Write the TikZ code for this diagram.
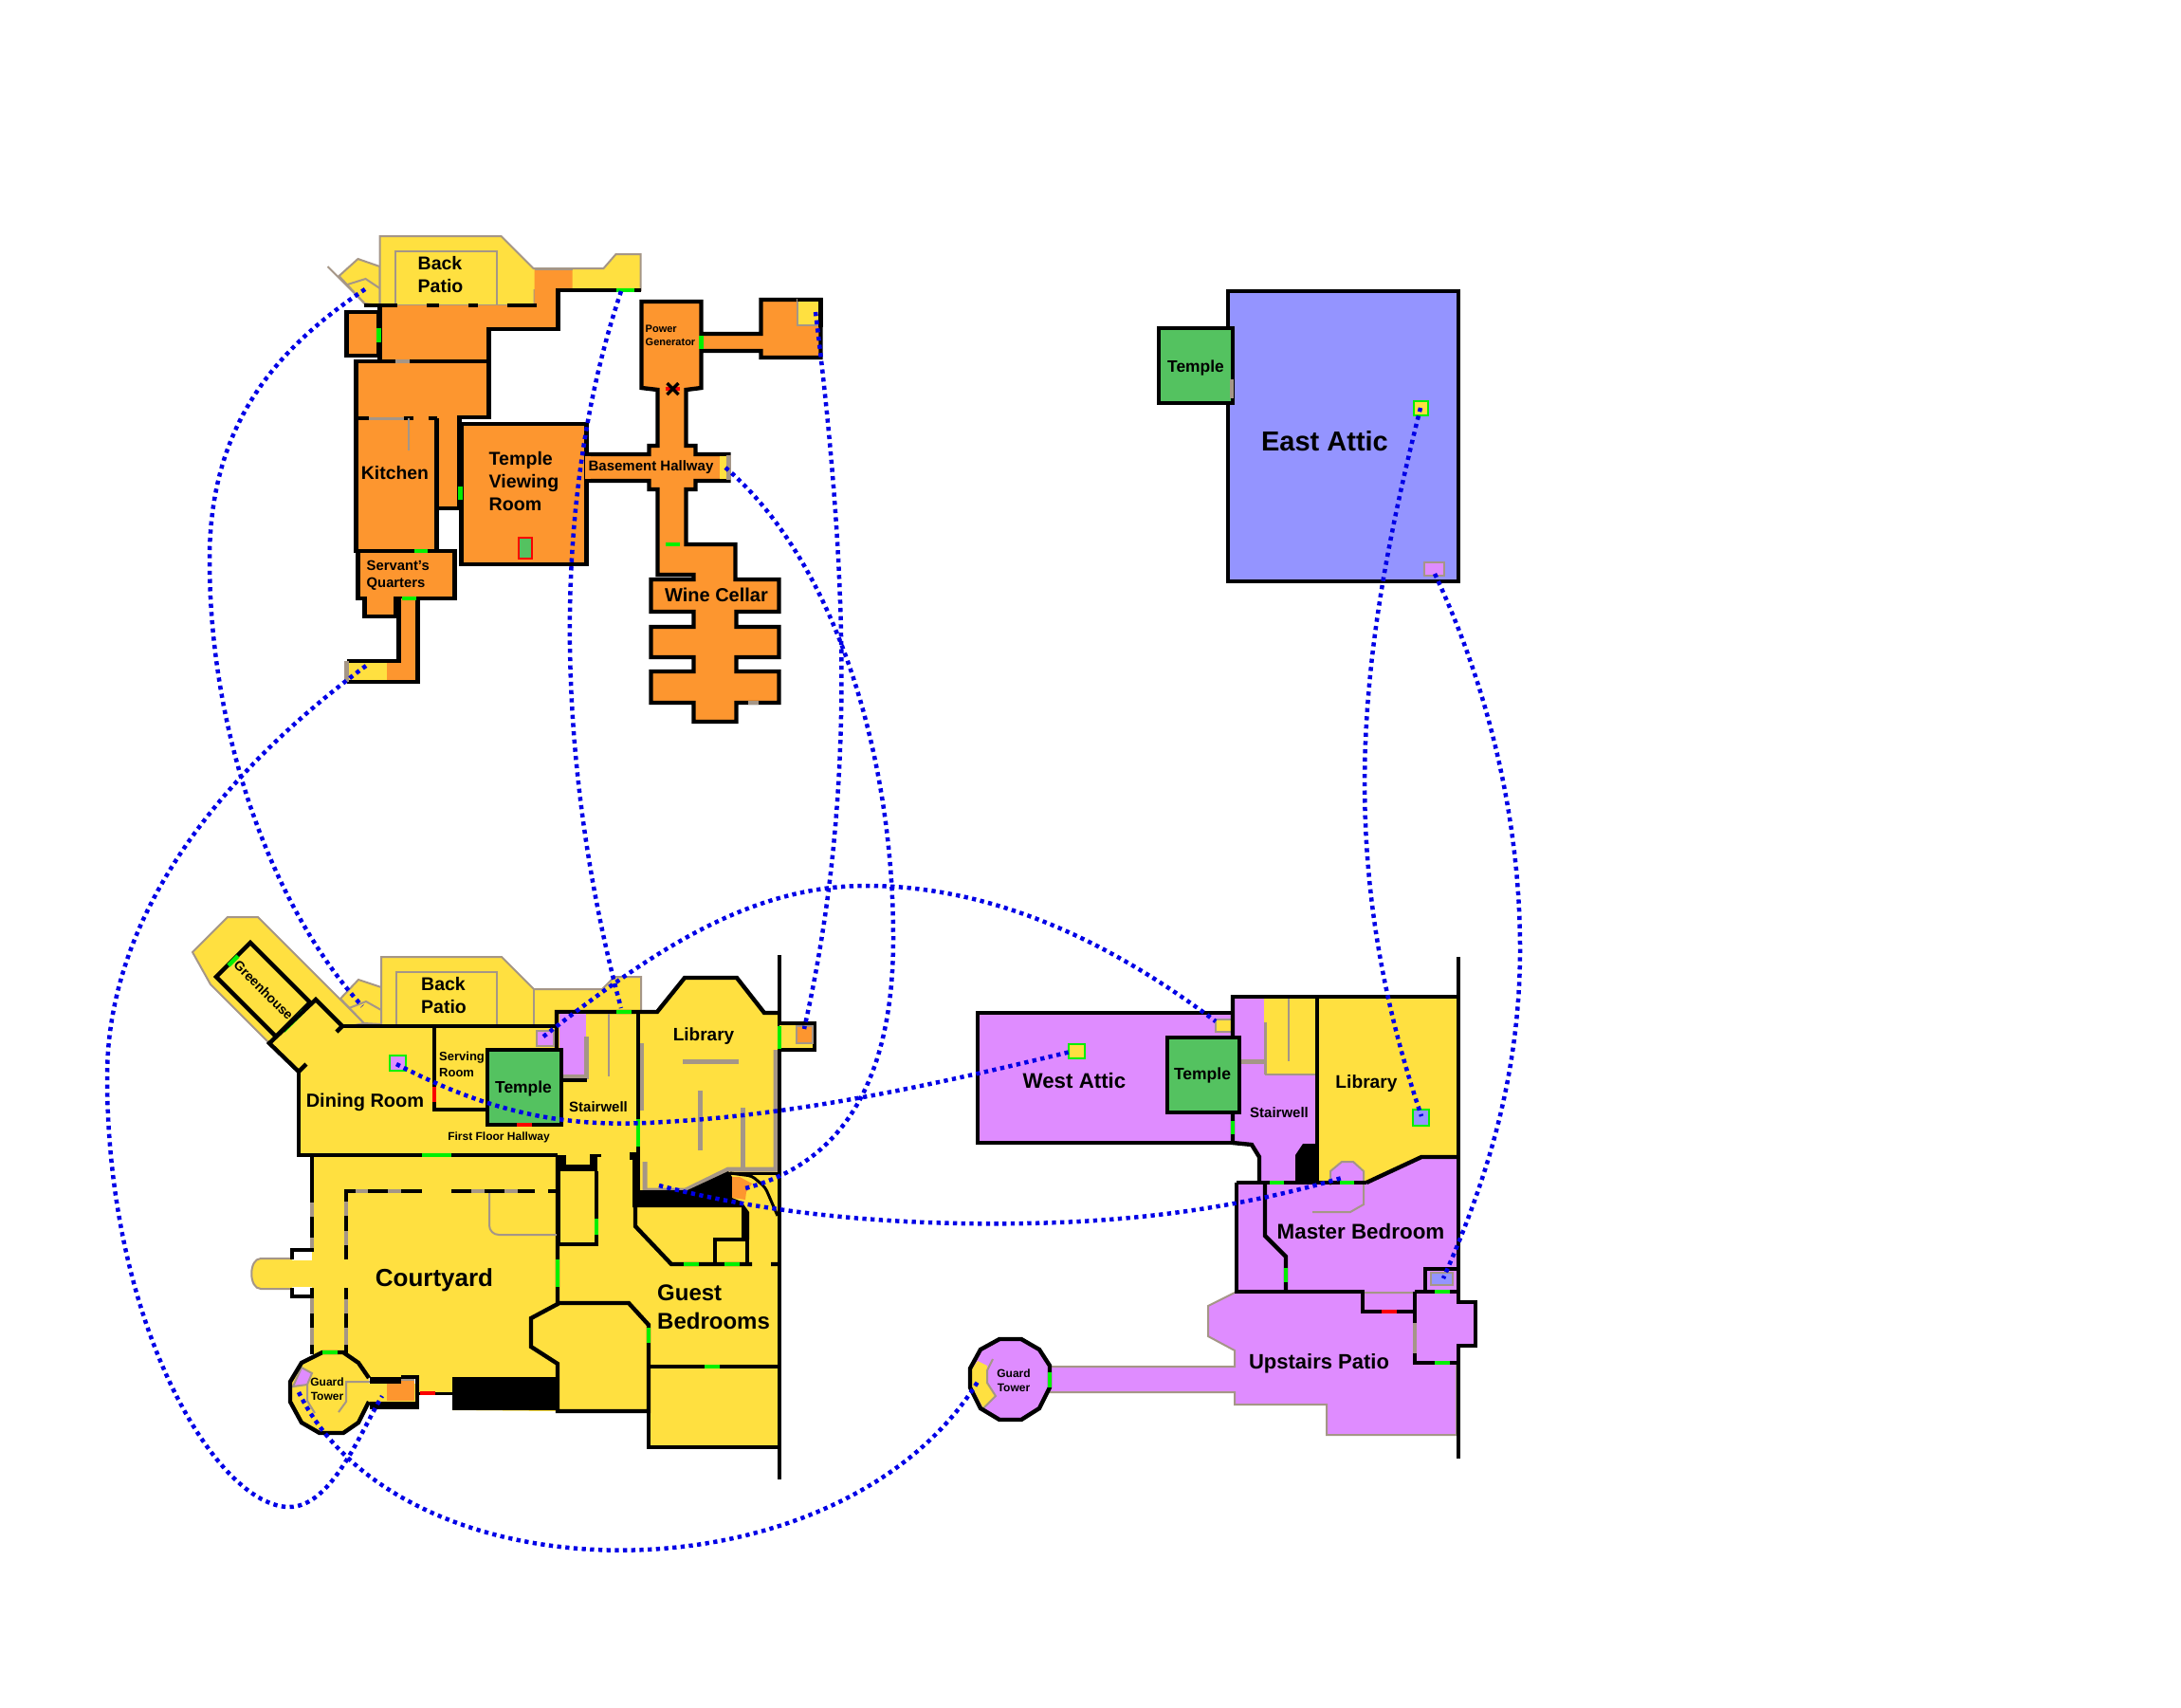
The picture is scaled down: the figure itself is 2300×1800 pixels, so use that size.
\documentclass[tikz,border=0pt]{standalone}
\usepackage{fontspec}
\setmainfont{Liberation Sans}
\usepackage{tikz}
\usetikzlibrary{positioning}
\definecolor{orangeroom}{RGB}{253,150,47}
\definecolor{yellowroom}{RGB}{255,224,64}
\definecolor{purpleroom}{RGB}{223,140,255}
\definecolor{blueroom}{RGB}{148,148,255}
\definecolor{templeroom}{RGB}{84,194,96}
\definecolor{greyedge}{RGB}{165,150,135}
\definecolor{doorgreen}{RGB}{0,240,0}
\definecolor{doorred}{RGB}{250,0,0}
\definecolor{linkblue}{RGB}{0,0,230}
\newcommand{\lblsize}[2]{\fontsize{#1}{#2}\selectfont\bfseries}
\tikzset{
  wall/.style={draw=black,line width=4.4pt,line join=miter},
  thinwall/.style={draw=black,line width=3pt},
  edge/.style={draw=greyedge,line width=2pt},
  fatedge/.style={draw=greyedge,line width=5pt},
  greydoor/.style={draw=greyedge,line width=4.5pt},
  greendoor/.style={draw=doorgreen,line width=4.5pt},
  reddoor/.style={draw=doorred,line width=4.5pt},
  marker/.style={draw=doorgreen,line width=2pt},
  lbl/.style={inner sep=0pt,align=left},
  link/.style={draw=linkblue,line width=4.5pt,dash pattern=on 4.3pt off 4.4pt}
}
\begin{document}
\begin{tikzpicture}[x=1pt,y=-1pt]
\useasboundingbox (0,0) rectangle (2300,1800);

% basement
\begin{scope}[xshift=-1.5pt]
\filldraw[fill=yellowroom,edge] (359,291) -- (379,273) -- (402,281) -- (402,322) -- (386,320) -- cycle;
\draw[edge] (347,281) -- (386,320);
\draw[edge] (368,300) -- (387,294) -- (402,304);
\filldraw[fill=yellowroom,edge] (402,322) -- (402,249) -- (530,249) -- (564,283) -- (638,283) -- (651,268) -- (677,268) -- (677,306) -- (565,306) -- (565,322) -- cycle;
\draw[edge] (418,322) -- (418,265) -- (525,265) -- (525,322);
\fill[orangeroom] (402,322) -- (402,381) -- (377,381) -- (377,581) -- (462,581) -- (462,536) -- (486,536) -- (486,440) -- (517,440) -- (517,347) -- (590,347) -- (590,306) -- (605,306) -- (605,284) -- (565,284) -- (565,322) -- cycle;
\draw[edge] (565,284) -- (605,284);
\draw[wall] (385,322) -- (420,322) (451,322) -- (464,322) (495,322) -- (505,322) (536,322) -- (567,322);
\draw[wall] (402,322) -- (402,381);
\draw[wall] (377,381) -- (517,381);
\draw[wall] (677,306) -- (590,306) -- (590,347) -- (517,347) -- (517,440) -- (486,440) -- (486,536) -- (462,536);
\draw[wall] (462,441) -- (462,581) -- (377,581) -- (377,379);
\draw[edge,line width=3pt] (390,441) -- (427,441);
\draw[wall] (377,441) -- (390,441) (427,441) -- (437,441) (453,441) -- (462,441);
\draw[edge] (432,441) -- (432,475);
\filldraw[fill=orangeroom,wall] (367,329) rectangle (401,375);
\filldraw[fill=orangeroom,wall] (379,581) -- (481,581) -- (481,631) -- (419,631) -- (419,650) -- (386,650) -- (386,631) -- (379,631) -- cycle;
\fill[orangeroom] (367,697) -- (422,697) -- (422,631) -- (442,631) -- (442,719) -- (367,719) -- cycle;
\fill[yellowroom] (367,697) rectangle (409,718);
\draw[wall] (367,697) -- (422,697) -- (422,631);
\draw[wall] (442,631) -- (442,719) -- (367,719);
\draw[greydoor] (367,697) -- (367,719);
\filldraw[fill=orangeroom,wall] (488,447) rectangle (620,595);
\filldraw[fill=orangeroom,wall] (620,479) -- (686,479) -- (686,470) -- (695,470) -- (695,411) -- (678,409) -- (678,318) -- (741,318) -- (741,352) -- (804,352) -- (804,316) -- (867,316) -- (867,377) -- (804,377) -- (804,370) -- (741,370) -- (741,409) -- (725,411) -- (725,470) -- (735,470) -- (735,479) -- (770,479) -- (770,507) -- (735,507) -- (735,516) -- (725,516) -- (725,574) -- (777,574) -- (777,611) -- (823,611) -- (823,645) -- (778,645) -- (778,661) -- (823,661) -- (823,693) -- (778,693) -- (778,708) -- (823,708) -- (823,741) -- (778,741) -- (778,761) -- (733,761) -- (733,741) -- (688,741) -- (688,708) -- (733,708) -- (733,693) -- (688,693) -- (688,661) -- (733,661) -- (733,645) -- (688,645) -- (688,611) -- (733,611) -- (733,606) -- (695,606) -- (695,516) -- (686,516) -- (686,507) -- (620,507) -- cycle;
\fill[orangeroom] (618,481) rectangle (624,505);
\filldraw[fill=yellowroom,edge] (867,316) -- (842,316) -- (842,343) -- (867,343);
\draw[wall] (842,316) -- (867,316) -- (867,345);
\fill[yellowroom] (760,481) rectangle (769,505);
\draw[greydoor] (770,480) -- (770,506);
\filldraw[fill=templeroom,draw=doorred,line width=2pt] (548,567) rectangle (562,589);
\draw[greendoor] (651,306) -- (670,306);
\draw[greendoor] (401,346) -- (401,361);
\draw[greydoor] (418,381) -- (433,381);
\draw[greendoor] (487,513) -- (487,527);
\draw[greendoor] (438,581) -- (452,581);
\draw[greendoor] (425,631) -- (440,631);
\draw[greendoor] (741,354) -- (741,368);
\draw[reddoor] (703,410) -- (718,410);
\draw[line width=3.5pt] (705,404) -- (717,416) (717,404) -- (705,416);
\draw[greendoor] (703,574) -- (718,574);
\draw[greydoor] (790,741) -- (801,741);

\node[lbl,anchor=west,font=\lblsize{19.5}{24}] (patioA) at (442,290) {Back\\Patio};
\node[lbl,anchor=west,font=\lblsize{11}{14}] (generator) at (682,354) {Power\\Generator};
\node[lbl,font=\lblsize{19.4}{24}] (kitchen) at (418,499) {Kitchen};
\node[lbl,anchor=west,font=\lblsize{19.6}{24}] (viewing) at (517,507) {Temple\\Viewing\\Room};
\node[lbl,font=\lblsize{15}{18}] (basement) at (688,493) {Basement Hallway};
\node[lbl,anchor=west,font=\lblsize{14.8}{18}] (servants) at (388,607) {Servant's\\Quarters};
\node[lbl,font=\lblsize{20}{24}] (cellar) at (757,627) {Wine Cellar};
\end{scope}

% first floor
\filldraw[fill=yellowroom,edge] (203,1004) -- (240,967) -- (272,967) -- (384,1079) -- (283,1099) -- (222,1038) -- cycle;
\filldraw[fill=yellowroom,edge] (359,1053) -- (378,1033) -- (402,1041) -- (402,1080) -- (384,1079) -- cycle;
\draw[edge] (368,1063) -- (386,1056) -- (402,1065);
\filldraw[fill=yellowroom,edge] (402,1082) -- (402,1009) -- (529,1009) -- (563,1043) -- (635,1043) -- (648,1030) -- (676,1030) -- (676,1067) -- (590,1067) -- (590,1082) -- cycle;
\draw[edge] (418,1082) -- (418,1025) -- (524,1025) -- (524,1082);
\draw[edge] (563,1043) -- (563,1082);
\fill[yellowroom] (284,1100) -- (333,1054) -- (361,1082) -- (587,1082) -- (587,1067) -- (693,1067) -- (722,1031) -- (777,1031) -- (806,1068) -- (822,1068) -- (822,1526) -- (684,1526) -- (684,1488) -- (588,1488) -- (477,1487) -- (477,1469) -- (442,1469) -- (440,1452) -- (389,1452) -- (378,1437) -- (362,1426) -- (329,1428) -- (329,1218) -- (315,1218) -- (315,1130) -- cycle;
\filldraw[fill=yellowroom,edge] (308,1327) -- (275,1327) .. controls (262,1327) and (262,1359) .. (275,1359) -- (308,1359);
\fill[yellowroom] (306,1329) rectangle (330,1357);
\filldraw[fill=yellowroom,wall] (264,994) -- (228,1030) -- (291,1093) -- (327,1057) -- cycle;
\draw[greendoor] (241,1018) -- (251,1008);
\draw[greendoor] (299,1087) -- (320,1066);
\draw[wall] (355,1088) -- (361,1082) -- (333,1054) -- (284,1100) -- (315,1130) -- (323,1122);
\draw[wall] (315,1130) -- (315,1218) -- (588,1218);
\draw[wall] (361,1082) -- (587,1082);
\draw[wall] (587,1107) -- (587,1067) -- (693,1067) -- (722,1031) -- (777,1031) -- (806,1068) -- (822,1068);
\draw[wall] (458,1082) -- (458,1170) -- (514,1170);
\fill[purpleroom] (590,1069) rectangle (618,1135);
\draw[fatedge] (618,1093) -- (618,1135) -- (593,1135);
\filldraw[fill=purpleroom,edge] (566,1087) rectangle (584,1103);
\draw[edge] (642,1069) -- (642,1135);
\draw[wall] (593,1139) -- (619,1139);
\filldraw[fill=templeroom,wall] (514,1107) rectangle (592,1186);
\draw[reddoor] (545,1186) -- (561,1186);
\draw[reddoor] (458,1146) -- (458,1162);
\filldraw[fill=purpleroom,marker] (411,1113) rectangle (428,1129);
\draw[greendoor] (445,1218) -- (476,1218);
\draw[greendoor] (650,1067) -- (666,1067);
\draw[fatedge] (676,1100) -- (676,1171);
\draw[fatedge] (720,1119) -- (779,1119);
\draw[fatedge] (738,1150) -- (738,1213);
\draw[fatedge] (783,1168) -- (783,1232);
\draw[fatedge] (818,1107) -- (818,1233) -- (768,1233) -- (723,1255) -- (680,1255) -- (680,1225);
\draw[wall] (673,1067) -- (673,1218);
\draw[greendoor] (673,1180) -- (673,1209);
\draw[wall,line width=8pt] (664,1219) -- (671,1219) -- (671,1258);
\fill (667,1255) -- (725,1255) -- (768,1235) -- (772,1241) -- (772,1263) -- (782,1267) -- (790,1278) -- (790,1307) -- (782,1307) -- (782,1273) -- (667,1273) -- cycle;
\fill[orangeroom] (772,1241) -- (780,1241) -- (793,1248) -- (787,1257) -- (786,1265) -- (772,1263) -- cycle;
\draw[thinwall] (768,1237) -- (822,1237);
\draw[thinwall,rounded corners=4pt] (770,1237) -- (793,1240) -- (807,1252) -- (820,1282);
\draw[wall] (670,1255) -- (670,1293) -- (708,1333) -- (793,1333) (813,1333) -- (822,1333);
\draw[wall] (754,1333) -- (754,1307) -- (788,1307) -- (788,1333);
\draw[greendoor] (721,1333) -- (737,1333);
\draw[greendoor] (764,1333) -- (780,1333);
\draw[wall] (822,1007) -- (822,1560);
\filldraw[fill=yellowroom,wall] (822,1079) -- (859,1079) -- (859,1107) -- (822,1107);
\filldraw[fill=orangeroom,edge] (840,1082) -- (840,1100) -- (857,1100) -- (857,1082) -- cycle;
\draw[greendoor] (822,1082) -- (822,1106);

\fill (588,1218) rectangle (597,1235);
\fill (588,1228) rectangle (630,1235);
\fill (622,1217) rectangle (630,1235);
\draw[thinwall] (630,1218) -- (634,1218);
\draw[wall] (589,1235) -- (589,1312) -- (629,1312) -- (629,1235);
\draw[greendoor] (629,1285) -- (629,1302);
\draw[wall] (588,1218) -- (588,1375) -- (560,1390) -- (560,1420) -- (588,1438) -- (588,1488) -- (684,1488) -- (684,1397) -- (663,1374) -- (588,1374);
\draw[greendoor] (588,1328) -- (588,1357);
\draw[greendoor] (684,1400) -- (684,1416);
\draw[wall] (684,1441) -- (822,1441);
\draw[greendoor] (743,1441) -- (759,1441);
\draw[wall] (684,1488) -- (684,1526) -- (822,1526);

\draw[edge,rounded corners=10pt] (516,1256) -- (516,1302) -- (587,1302);
\draw[greydoor] (329,1218) -- (329,1318) (329,1358) -- (329,1428);
\draw[greydoor] (365,1256) -- (365,1328) (365,1358) -- (365,1427);
\draw[greydoor] (365,1256) -- (445,1256) (476,1256) -- (564,1256);
\draw[wall] (329,1218) -- (329,1268) (329,1283) -- (329,1305) (329,1358) -- (329,1368) (329,1385) -- (329,1400) (329,1418) -- (329,1428);
\draw[wall] (365,1256) -- (365,1267) (365,1282) -- (365,1298) (365,1313) -- (365,1328) (365,1358) -- (365,1370) (365,1385) -- (365,1400) (365,1418) -- (365,1427);
\draw[wall] (363,1256) -- (375,1256) (388,1256) -- (409,1256) (423,1256) -- (445,1256) (476,1256) -- (497,1256) (511,1256) -- (532,1256) (546,1256) -- (564,1256) (578,1256) -- (588,1256);
\draw[wall] (331,1318) -- (308,1318) -- (308,1328);
\draw[wall] (331,1367) -- (308,1367) -- (308,1358);

\filldraw[fill=yellowroom,draw=none] (340,1426) -- (362,1426) -- (378,1437) -- (389,1453) -- (389,1478) -- (378,1500) -- (362,1511) -- (337,1511) -- (318,1500) -- (306,1478) -- (306,1457) -- (318,1437) -- cycle;
\filldraw[fill=purpleroom,edge] (318,1442) -- (329,1448) -- (324,1460) -- (309,1462) -- cycle;
\draw[edge] (324,1460) -- (324,1477) -- (332,1490);
\draw[edge] (390,1457) -- (365,1457) -- (365,1478) -- (357,1489);
\fill[yellowroom] (389,1459) rectangle (440,1478);
\fill[orangeroom] (408,1456) rectangle (437,1477);
\draw[edge] (423,1455) -- (437,1455);
\draw[wall] (389,1453) -- (378,1437) -- (362,1426) -- (340,1426) -- (318,1437) -- (306,1457) -- (306,1478) -- (318,1500) -- (337,1511) -- (362,1511) -- (378,1500) -- (389,1478);
\draw[greendoor] (340,1426) -- (356,1426);
\fill (390,1452) rectangle (423,1459);
\fill (390,1478) rectangle (441,1486);
\draw[wall] (423,1452) -- (440,1452) -- (440,1486);
\fill (477,1452) rectangle (588,1487);
\draw[thinwall] (442,1469) -- (477,1469);
\draw[reddoor] (443,1469) -- (459,1469);

\node[lbl,anchor=west,font=\lblsize{19.5}{24}] (patioB) at (444,1050) {Back\\Patio};
\node[lbl,rotate=-45,font=\lblsize{14}{16}] (greenhouse) at (278,1044) {Greenhouse};
\node[lbl,font=\lblsize{20}{24}] (dining) at (385,1162) {Dining Room};
\node[lbl,anchor=west,font=\lblsize{13}{17}] (serving) at (463,1122) {Serving\\Room};
\node[lbl,font=\lblsize{17.4}{20}] (templeA) at (552,1148) {Temple};
\node[lbl,font=\lblsize{15}{18}] (stairsA) at (631,1167) {Stairwell};
\node[lbl,font=\lblsize{12}{14}] (hallway) at (526,1199) {First Floor Hallway};
\node[lbl,font=\lblsize{19}{22}] (libraryA) at (742,1093) {Library};
\node[lbl,font=\lblsize{26}{30}] (courtyard) at (458,1350) {Courtyard};
\node[lbl,align=center,font=\lblsize{12}{15}] (towerA) at (345,1465) {Guard\\Tower};
\node[lbl,anchor=west,font=\lblsize{24}{30}] (guest) at (693,1378) {Guest\\Bedrooms};

% upper floor
\filldraw[fill=purpleroom,wall] (1031,1068) rectangle (1300,1205);
\fill[purpleroom] (1300,1051) -- (1389,1051) -- (1389,1247) -- (1328,1247) -- (1328,1220) -- (1320,1207) -- (1300,1205) -- cycle;
\fill[yellowroom] (1333,1053) rectangle (1388,1133);
\draw[edge] (1334,1133) -- (1388,1133);
\draw[edge,line width=3pt] (1334,1078) -- (1334,1133);
\draw[fatedge] (1309,1119) -- (1334,1119);
\draw[edge] (1359,1053) -- (1359,1119);
\filldraw[fill=yellowroom,edge] (1299,1075) -- (1282,1075) -- (1282,1088) -- (1299,1088);
\filldraw[fill=yellowroom,marker] (1127,1101) rectangle (1144,1116);
\fill[yellowroom] (1391,1053) -- (1536,1053) -- (1536,1219) -- (1499,1220) -- (1441,1247) -- (1391,1247) -- cycle;
\filldraw[fill=blueroom,marker] (1490,1170) rectangle (1507,1187);
\filldraw[fill=purpleroom,draw=none] (1304,1246) -- (1441,1246) -- (1499,1220) -- (1538,1220) -- (1538,1362) -- (1304,1362) -- cycle;
\filldraw[fill=purpleroom,edge] (1403,1250) -- (1403,1235) -- (1415,1225) -- (1427,1225) -- (1438,1235) -- (1438,1270) -- (1424,1278) -- (1384,1278);
\filldraw[fill=purpleroom,edge] (1302,1363) -- (1274,1377) -- (1274,1409) -- (1302,1424) -- (1302,1441) -- (1107,1441) -- (1107,1468) -- (1302,1468) -- (1302,1481) -- (1399,1481) -- (1399,1513) -- (1536,1513) -- (1536,1363) -- cycle;
\fill[purpleroom] (1492,1373) rectangle (1556,1419);
\fill[purpleroom] (1492,1362) rectangle (1537,1437);
\draw[wall] (1300,1051) -- (1538,1051);
\draw[wall] (1300,1049) -- (1300,1094) (1300,1173) -- (1300,1205) -- (1320,1207) -- (1328,1220) -- (1328,1247);
\draw[greendoor] (1300,1182) -- (1300,1196);
\draw[wall] (1389,1051) -- (1389,1247);
\fill (1366,1218) -- (1374,1206) -- (1389,1206) -- (1389,1247) -- (1366,1247) -- cycle;
\filldraw[fill=templeroom,wall] (1231,1094) rectangle (1307,1173);
\draw[wall] (1441,1247) -- (1499,1220) -- (1538,1220);
\draw[wall] (1304,1247) -- (1441,1247);
\draw[wall] (1304,1247) -- (1304,1362) -- (1437,1362) -- (1437,1383) -- (1492,1383);
\draw[wall] (1492,1362) -- (1538,1362);
\draw[wall] (1334,1247) -- (1334,1303) -- (1356,1325) -- (1356,1362);
\draw[greendoor] (1356,1337) -- (1356,1352);
\draw[greendoor] (1339,1247) -- (1354,1247);
\draw[greendoor] (1413,1247) -- (1428,1247);
\draw[reddoor] (1457,1383) -- (1473,1383);
\filldraw[fill=blueroom,edge] (1509,1342) rectangle (1532,1355);
\draw[wall] (1503,1362) -- (1503,1338) -- (1538,1338);
\draw[greendoor] (1513,1362) -- (1529,1362);
\draw[wall] (1492,1362) -- (1492,1395) (1492,1427) -- (1492,1437) -- (1538,1437);
\draw[greydoor] (1492,1395) -- (1492,1427);
\draw[greendoor] (1513,1437) -- (1529,1437);
\draw[wall] (1538,1009) -- (1538,1373) -- (1556,1373) -- (1556,1419) -- (1538,1419) -- (1538,1538);

\fill[purpleroom] (1054,1412) -- (1077,1412) -- (1096,1423) -- (1107,1440) -- (1107,1463) -- (1096,1485) -- (1077,1497) -- (1054,1497) -- (1034,1485) -- (1023,1463) -- (1023,1443) -- (1034,1423) -- cycle;
\fill[yellowroom] (1031,1435) -- (1041,1440) -- (1041,1457) -- (1049,1472) -- (1037,1485) -- (1024,1460) -- (1024,1445) -- cycle;
\draw[edge] (1047,1433) -- (1041,1445) -- (1041,1458) -- (1050,1472) -- (1037,1485);
\draw[wall] (1054,1412) -- (1077,1412) -- (1096,1423) -- (1107,1440) -- (1107,1463) -- (1096,1485) -- (1077,1497) -- (1054,1497) -- (1034,1485) -- (1023,1463) -- (1023,1443) -- (1034,1423) -- cycle;
\draw[greendoor] (1107,1447) -- (1107,1463);

\node[lbl,font=\lblsize{22.3}{26}] (westattic) at (1133,1140) {West Attic};
\node[lbl,font=\lblsize{17.5}{20}] (templeB) at (1268,1134) {Temple};
\node[lbl,font=\lblsize{15}{18}] (stairsB) at (1349,1173) {Stairwell};
\node[lbl,font=\lblsize{19.2}{22}] (libraryB) at (1441,1143) {Library};
\node[lbl,font=\lblsize{22.4}{26}] (master) at (1435,1298) {Master Bedroom};
\node[lbl,align=center,font=\lblsize{12}{15}] (towerB) at (1069,1456) {Guard\\Tower};
\node[lbl,font=\lblsize{22}{26}] (upstairs) at (1391,1438) {Upstairs Patio};

% attic
\filldraw[fill=blueroom,wall] (1295,307) rectangle (1538,613);
\filldraw[fill=templeroom,wall] (1222,346) rectangle (1300,425);
\draw[greydoor] (1299,400) -- (1299,420);
\filldraw[fill=yellowroom,marker] (1491,423) rectangle (1506,438);
\filldraw[fill=purpleroom,edge,line width=2.5pt] (1502,593) rectangle (1523,607);

\node[lbl,font=\lblsize{29}{32}] (eastattic) at (1397,465) {East Attic};
\node[lbl,font=\lblsize{17.4}{20}] (templeC) at (1261,388) {Temple};

% links between floors
\coordinate (kitchenpatio) at (385,305);
\coordinate (yardpatio) at (382,1061);
\coordinate (basementend) at (386,702);
\coordinate (towerend) at (403,1472);
\coordinate (patiodoor) at (655,307);
\coordinate (stairdoor) at (655,1063);
\coordinate (chamber) at (860,329);
\coordinate (annex) at (848,1085);
\coordinate (hallend) at (765,493);
\coordinate (closet) at (782,1254);
\coordinate (stairspot) at (573,1093);
\coordinate (atticspot) at (1282,1077);
\coordinate (diningspot) at (418,1122);
\coordinate (westspot) at (1129,1109);
\coordinate (librarydark) at (695,1250);
\coordinate (masterbay) at (1415,1242);
\coordinate (eastspot) at (1498,430);
\coordinate (libraryspot) at (1499,1177);
\coordinate (eastcorner) at (1513,605);
\coordinate (masterbox) at (1522,1348);
\coordinate (towerwest) at (315,1468);
\coordinate (towereast) at (1031,1457);

\draw[link] (kitchenpatio) .. controls (288,370) and (221,450) .. (221,590) .. controls (221,780) and (290,960) .. (yardpatio);
\draw[link] (basementend) .. controls (240,810) and (113,960) .. (113,1135) .. controls (113,1400) and (230,1589) .. (305,1589) .. controls (350,1589) and (380,1510) .. (towerend);
\draw[link] (patiodoor) .. controls (570,560) and (597,850) .. (stairdoor);
\draw[link] (chamber) .. controls (896,620) and (901,850) .. (annex);
\draw[link] (hallend) .. controls (878,590) and (942,790) .. (942,990) .. controls (942,1150) and (880,1230) .. (closet);
\draw[link] (stairspot) .. controls (680,1010) and (785,934) .. (913,934) .. controls (1055,934) and (1180,1000) .. (atticspot);
\draw[link] (diningspot) .. controls (520,1175) and (600,1190) .. (700,1183) .. controls (850,1175) and (1000,1140) .. (westspot);
\draw[link] (librarydark) .. controls (830,1285) and (970,1292) .. (1080,1290) .. controls (1210,1288) and (1320,1270) .. (masterbay);
\draw[link] (eastspot) .. controls (1435,680) and (1405,900) .. (libraryspot);
\draw[link] (eastcorner) .. controls (1572,730) and (1603,870) .. (1603,1000) .. controls (1603,1130) and (1570,1240) .. (masterbox);
\draw[link] (towerwest) .. controls (425,1692) and (885,1692) .. (towereast);

\end{tikzpicture}
\end{document}
